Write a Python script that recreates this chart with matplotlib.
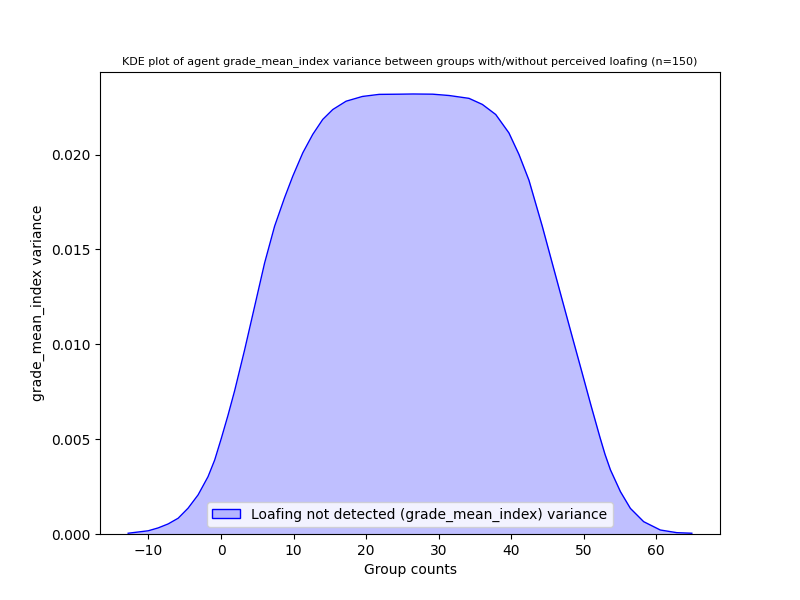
import matplotlib
matplotlib.use("Agg")
import matplotlib.pyplot as plt

# KDE curve (x = group counts, y = density)
kde_x = [-12.8, -10.03, -8.67, -7.29, -5.91, -4.54, -3.16, -1.79, -0.87, 0.05,
         0.96, 1.88, 3.26, 4.64, 6.01, 7.39, 8.76, 9.9, 11.28, 12.65,
         14.03, 15.41, 17.25, 19.5, 21.8, 24.6, 26.5, 29.2, 31.46, 34.2, 36.04,
         37.88, 39.7, 41.09, 42.46, 44.3, 45.67, 47.04, 48.42, 49.79, 51.0,
         52.25, 52.95, 53.7, 55.08, 56.45, 58.28, 60.58, 62.86, 64.92]
kde_y = [0.00004, 0.00017, 0.00032, 0.00053, 0.00083, 0.00136, 0.00206, 0.00302,
         0.0039, 0.00505, 0.00625, 0.00755, 0.00971, 0.012, 0.01428, 0.01622,
         0.01772, 0.01886, 0.02009, 0.02106, 0.02185, 0.02237, 0.02281, 0.02306,
         0.02317, 0.02318, 0.02319, 0.02318, 0.02311, 0.02296, 0.02264, 0.02211,
         0.02114, 0.02, 0.01865, 0.01622, 0.01428, 0.01235, 0.01041, 0.0085,
         0.0068, 0.0051, 0.0042, 0.00338, 0.00223, 0.00135, 0.00065, 0.00021,
         0.00007, 0.00004]

label = "Loafing not detected (grade_mean_index) variance"

fig, ax = plt.subplots(figsize=(8, 6), dpi=100)
ax.fill_between(kde_x, kde_y, color="blue", alpha=0.25, linewidth=0)
ax.plot(kde_x, kde_y, color="blue", linewidth=1)
# legend patch: light fill with blue edge, as seaborn draws it
ax.fill([], [], facecolor=(0, 0, 1, 0.25), edgecolor="blue", label=label)
ax.set_ylim(bottom=0)
ax.set_xlabel("Group counts")
ax.set_ylabel("grade_mean_index variance")
ax.set_title("KDE plot of agent grade_mean_index variance between groups with/without perceived loafing (n=150)",
             fontsize=8)
ax.legend(loc="lower center")
plt.savefig("out.png")
